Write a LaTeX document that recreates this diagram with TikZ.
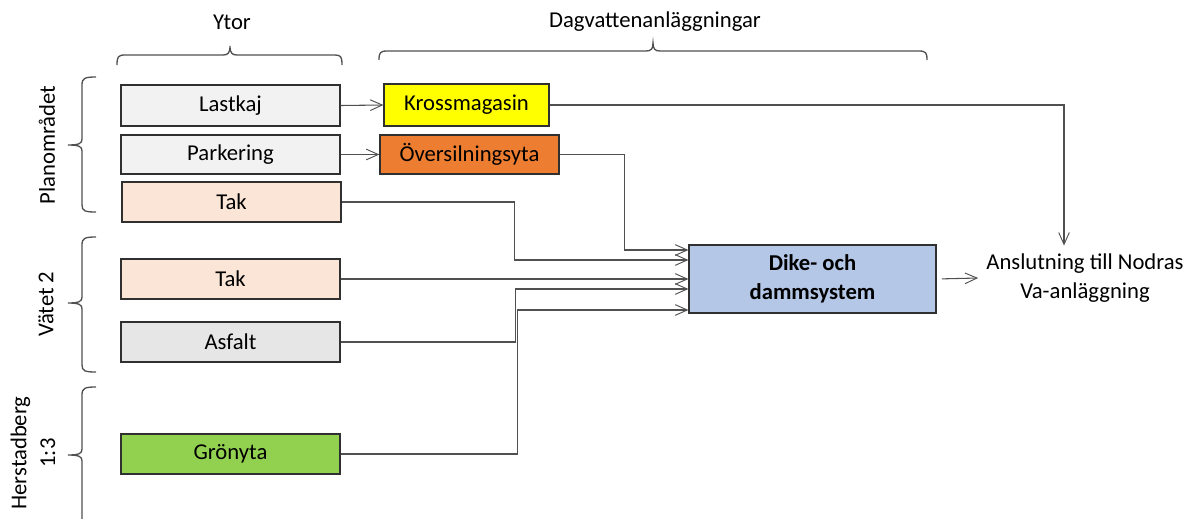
\documentclass[tikz,border=0pt]{standalone}
\usepackage{fontspec}
\setmainfont{Carlito}
\usetikzlibrary{arrows.meta,calc}
\definecolor{ln}{HTML}{505050}
\definecolor{bx}{HTML}{303030}
\definecolor{cLast}{HTML}{F2F2F2}
\definecolor{cTak}{HTML}{FBE5D6}
\definecolor{cAsf}{HTML}{E7E6E6}
\definecolor{cGron}{HTML}{92D050}
\definecolor{cKross}{HTML}{FFFF00}
\definecolor{cOver}{HTML}{ED7D31}
\definecolor{cDike}{HTML}{B4C7E7}
\begin{document}
\begin{tikzpicture}[x=0.75pt,y=-0.75pt,
  every node/.style={font=\fontsize{17}{21.5}\selectfont},
  box/.style={draw=bx,line width=0.9pt,minimum width=164.25pt,minimum height=30pt,inner sep=0pt},
  arr/.style={draw=ln,line width=0.8pt,-{Straight Barb[length=9pt,width=8pt,line width=0.7pt]}},
  ln/.style={draw=ln,line width=0.8pt},
  brace/.style={draw=ln,line width=1pt}]
\useasboundingbox (0,0) rectangle (1188,518);
% surfaces
\node[box,fill=cLast,minimum height=30.75pt] (last) at (230.5,105.5) {Lastkaj};
\node[box,fill=cLast,minimum height=29.25pt] (park) at (230.5,154.5) {Parkering};
\node[box,fill=cTak] (tak1) at (231.5,202) {Tak};
\node[box,fill=cTak] (tak2) at (230.5,279) {Tak};
\node[box,fill=cAsf] (asf) at (230.5,342) {Asfalt};
\node[box,fill=cGron] (gron) at (230.5,454) {Grönyta};
% facilities
\node[box,fill=cKross,minimum width=123.75pt,minimum height=31.5pt] (kross) at (466.5,105) {Krossmagasin};
\node[box,fill=cOver,minimum width=134.25pt,minimum height=29.25pt] (over) at (469.5,154.5) {Översilningsyta};
\node[box,fill=cDike,minimum width=185.25pt,minimum height=51pt,align=center,font=\fontsize{17}{21.5}\selectfont\bfseries] (dike) at (812.5,279) {Dike- och\\dammsystem};
\node[align=center,inner sep=6pt] (ansl) at (1085,278) {Anslutning till Nodras\\Va-anläggning};
% labels
\node (ytor) at (232,22) {Ytor};
\node (dag) at (655,22) {Dagvattenanläggningar};
\node[rotate=90] (plan) at (47,145) {Planområdet};
\node[rotate=90] (vatet) at (46,304) {Vätet 2};
\node[rotate=90,align=center] (herst) at (33,453) {Herstadberg\\1:3};
% connectors
\draw[arr] (last.east) -- (kross.west);
\draw[arr] (park.east) -- (over.west);
\coordinate (kx) at (1064,0);
\draw[arr] (kross.east) -| (kx |- ansl.north);
\draw[arr] (over.east) -| ($(dike.west)+(-64,-29)$) -- ($(dike.west)+(0,-29)$);
\draw[arr] (tak1.east) -| ($(dike.west)+(-174,-19)$) -- ($(dike.west)+(0,-19)$);
\draw[arr] (tak2.east) -- (tak2.east -| dike.west);
\draw[arr] (asf.east) -| ($(dike.west)+(-173,10)$) -- ($(dike.west)+(0,10)$);
\draw[arr] (gron.east) -| ($(dike.west)+(-171,31)$) -- ($(dike.west)+(0,31)$);
\draw[arr,shorten <=4pt] (dike.east) -- (ansl.west);
% braces
\draw[brace] (117,65) .. controls (117,57) and (118,55) .. (125,55) -- (223,55) .. controls (228,55) and (230,53) .. (230,46) .. controls (230,53) and (232,55) .. (237,55) -- (335,55) .. controls (341,55) and (342,57) .. (342,65);
\draw[brace] (379,60) .. controls (379,53) and (380,51) .. (387,51) -- (646,51) .. controls (651,51) and (653,49) .. (653,43) .. controls (653,49) and (655,51) .. (660,51) -- (919,51) .. controls (926,51) and (927,53) .. (927,60);
\draw[brace] (96,77) .. controls (85,77) and (82,78) .. (82,85) -- (82,139) .. controls (82,143) and (80,145) .. (68,145) .. controls (80,145) and (82,147) .. (82,151) -- (82,205) .. controls (82,211) and (85,212) .. (96,212);
\draw[brace] (96,237) .. controls (85,237) and (82,238) .. (82,245) -- (82,297) .. controls (82,301) and (80,303) .. (68,303) .. controls (80,303) and (82,305) .. (82,309) -- (82,365) .. controls (82,371) and (85,372) .. (96,372);
\draw[brace] (96,387) .. controls (85,387) and (82,388) .. (82,395) -- (82,449) .. controls (82,453) and (80,455) .. (68,455) .. controls (80,455) and (82,457) .. (82,461) -- (82,520);
\end{tikzpicture}
\end{document}
